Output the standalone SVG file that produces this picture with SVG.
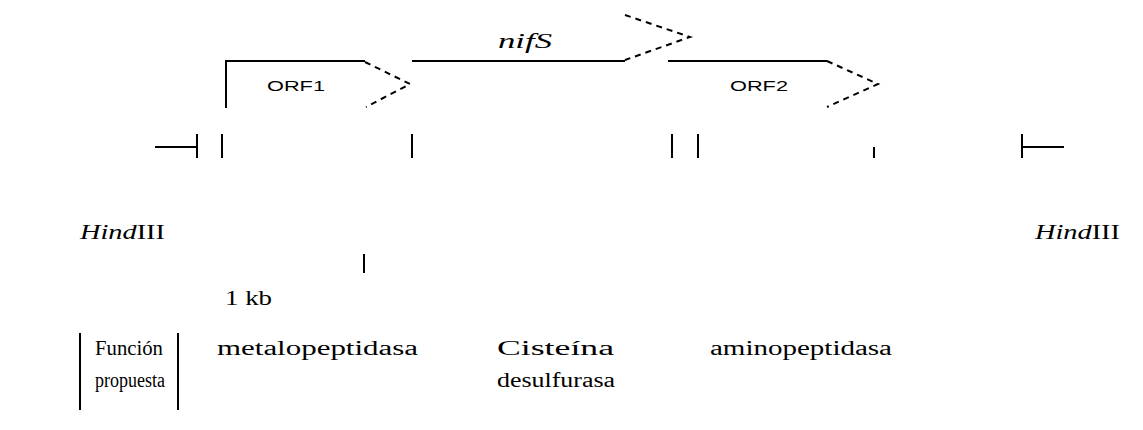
<svg xmlns="http://www.w3.org/2000/svg" width="1143" height="430" viewBox="0 0 1143 430">
<style>
.ln{stroke:#000;stroke-width:2;fill:none}
.ds{stroke:#000;stroke-width:2;fill:none;stroke-dasharray:6 5}
.t{font-family:"Liberation Serif",serif;font-size:20px;fill:#000}
.s{font-family:"Liberation Sans",Arial,sans-serif;font-size:15px;fill:#000}
.i{font-style:italic}
</style>
<rect width="1143" height="430" fill="#fff"/>
<g id="connectors">
<path class="ln" d="M226,108 V61 H365"/>
<path class="ds" d="M365,62 L410,84 L366,107"/>
<path class="ln" d="M412,61 H625"/>
<path class="ds" d="M625,15 L690,37 L625,60"/>
<path class="ln" d="M668,61 H827"/>
<path class="ds" d="M827,61 L878,84 L827,107"/>
</g>
<g id="map">
<path class="ln" d="M155,147 H197 M197,134 V158"/>
<path class="ln" d="M222,134 V158 M412,134 V158 M672,134 V158 M698,134 V158 M874,147 V158"/>
<path class="ln" d="M1022,134 V158 M1022,147 H1064"/>
</g>
<g id="labels">
<text class="s" x="267" y="91" textLength="58" lengthAdjust="spacingAndGlyphs">ORF1</text>
<text class="t i" x="498" y="48" textLength="54" lengthAdjust="spacingAndGlyphs">nifS</text>
<text class="s" x="730" y="91" textLength="58" lengthAdjust="spacingAndGlyphs">ORF2</text>
<text class="t" x="80" y="239" textLength="85" lengthAdjust="spacingAndGlyphs"><tspan class="i">Hind</tspan>III</text>
<text class="t" x="1035" y="239" textLength="85" lengthAdjust="spacingAndGlyphs"><tspan class="i">Hind</tspan>III</text>
</g>
<g id="scale">
<path class="ln" d="M364,254 V273"/>
<text class="t" x="225" y="305" textLength="47" lengthAdjust="spacingAndGlyphs">1 kb</text>
</g>
<g id="table">
<path class="ln" d="M80,333 V410 M178,333 V410"/>
<text class="t" x="95" y="355" textLength="68" lengthAdjust="spacingAndGlyphs">Función</text>
<text class="t" x="95" y="387" textLength="70" lengthAdjust="spacingAndGlyphs">propuesta</text>
<text class="t" x="217" y="355" textLength="201" lengthAdjust="spacingAndGlyphs">metalopeptidasa</text>
<text class="t" x="497" y="355" textLength="117" lengthAdjust="spacingAndGlyphs">Cisteína</text>
<text class="t" x="497" y="387" textLength="118" lengthAdjust="spacingAndGlyphs">desulfurasa</text>
<text class="t" x="710" y="355" textLength="182" lengthAdjust="spacingAndGlyphs">aminopeptidasa</text>
</g>
</svg>
